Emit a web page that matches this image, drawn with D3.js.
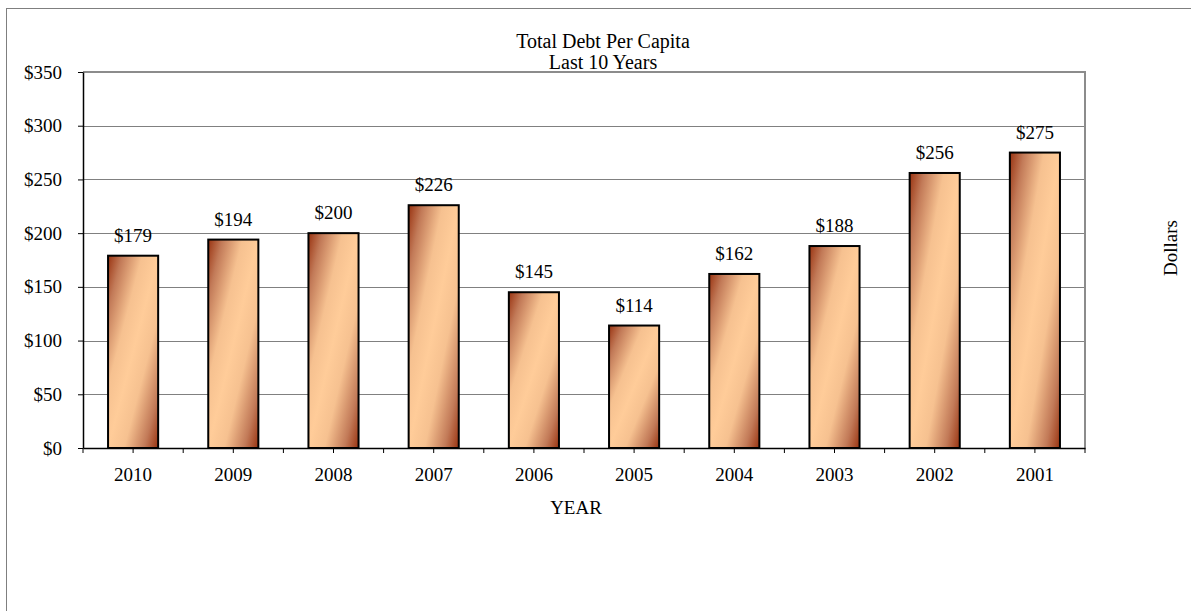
<!DOCTYPE html>
<html>
<head>
<meta charset="utf-8">
<script src="https://cdn.jsdelivr.net/npm/d3@7"></script>
<style>
    body { margin: 0; background: #fff; }
    text { font-family: "Liberation Serif", "Times New Roman", serif; fill: #000; }
</style>
</head>
<body>
<div id="chart"></div>
<script>
/* chart data */
var years = ["2010", "2009", "2008", "2007", "2006", "2005", "2004", "2003", "2002", "2001"];
var debtPerCapita = [179, 194, 200, 226, 145, 114, 162, 188, 256, 275];
var yTicks = [0, 50, 100, 150, 200, 250, 300, 350];
var titleLines = ["Total Debt Per Capita", "Last 10 Years"];

function plotBars() {
    var W = 1191,
        H = 611,
        margin = {
            top: 72,
            right: 106,
            bottom: 163,
            left: 83
        },
        width = W - margin.left - margin.right,
        height = H - margin.top - margin.bottom;

    var svg = d3.select("#chart").append("svg")
        .attr("width", W)
        .attr("height", H);

    // outer chart border (only top and left visible)
    svg.append("rect")
        .attr("x", 6.5)
        .attr("y", 8.5)
        .attr("width", W + 20)
        .attr("height", H + 20)
        .attr("fill", "none")
        .attr("stroke", "#7f7f7f")
        .attr("stroke-width", 1);

    var defs = svg.append("defs");
    var grad = defs.append("linearGradient")
        .attr("id", "barGrad")
        .attr("x1", 0).attr("y1", 0)
        .attr("x2", 1).attr("y2", 1);
    grad.append("stop").attr("offset", "0%").attr("stop-color", "#993311");
    grad.append("stop").attr("offset", "14%").attr("stop-color", "#c27a58");
    grad.append("stop").attr("offset", "34%").attr("stop-color", "#f6c190");
    grad.append("stop").attr("offset", "50%").attr("stop-color", "#ffcc99");
    grad.append("stop").attr("offset", "66%").attr("stop-color", "#f6c190");
    grad.append("stop").attr("offset", "86%").attr("stop-color", "#c27a58");
    grad.append("stop").attr("offset", "100%").attr("stop-color", "#993311");

    var g = svg.append("g")
        .attr("transform", "translate(" + margin.left + "," + margin.top + ")");

    var x = d3.scaleBand()
        .domain(years)
        .range([0, width])
        .paddingInner(0.5)
        .paddingOuter(0.25);

    var y = d3.scaleLinear()
        .domain([0, 350])
        .range([height, 0]);

    // gridlines
    g.selectAll(".grid")
        .data(yTicks.filter(function(d) { return d > 0; }))
        .enter().append("line")
        .attr("class", "grid")
        .attr("x1", 0)
        .attr("x2", width)
        .attr("y1", function(d) { return Math.round(y(d)) + 0.5; })
        .attr("y2", function(d) { return Math.round(y(d)) + 0.5; })
        .attr("stroke", "#808080")
        .attr("stroke-width", 1);

    // plot frame top / right
    g.append("path")
        .attr("d", "M0," + y(350) + "H" + width + "V" + height)
        .attr("fill", "none")
        .attr("stroke", "#8c8c8c")
        .attr("stroke-width", 2);

    // bars
    g.selectAll(".bar")
        .data(debtPerCapita)
        .enter().append("rect")
        .attr("class", "bar")
        .attr("x", function(d, i) { return x(years[i]); })
        .attr("y", function(d) { return y(d); })
        .attr("width", x.bandwidth())
        .attr("height", function(d) { return height - y(d); })
        .attr("fill", "url(#barGrad)")
        .attr("stroke", "#000")
        .attr("stroke-width", 2);

    // value labels
    g.selectAll(".val")
        .data(debtPerCapita)
        .enter().append("text")
        .attr("class", "val")
        .attr("x", function(d, i) { return x(years[i]) + x.bandwidth() / 2; })
        .attr("y", function(d) { return y(d) - 14; })
        .attr("text-anchor", "middle")
        .style("font-size", "19px")
        .text(function(d) { return "$" + d; });

    // y axis
    var yAxis = g.append("g")
        .call(d3.axisLeft(y).tickValues(yTicks).tickSize(5).tickSizeOuter(0)
            .tickFormat(function(d) { return "$" + d; }));
    yAxis.select(".domain").attr("stroke", "#000").attr("stroke-width", 1.5);
    yAxis.selectAll(".tick line").attr("stroke", "#000");
    yAxis.selectAll(".tick text")
        .attr("x", -21)
        .style("font-size", "19px")
        .style("font-family", "Liberation Serif");

    // x axis
    var xAxis = g.append("g")
        .attr("transform", "translate(0," + height + ")")
        .call(d3.axisBottom(x).tickSize(5).tickSizeOuter(0));
    xAxis.select(".domain").attr("stroke", "#000").attr("stroke-width", 1.5);
    xAxis.selectAll(".tick line").attr("stroke", "#000");
    xAxis.selectAll(".tick text")
        .attr("y", 20)
        .style("font-size", "19px")
        .style("font-family", "Liberation Serif");

    // boundary ticks between categories
    var bounds = d3.range(years.length + 1).map(function(i) { return i * x.step(); });
    xAxis.selectAll(".btick")
        .data(bounds)
        .enter().append("line")
        .attr("class", "btick")
        .attr("x1", function(d) { return d; })
        .attr("x2", function(d) { return d; })
        .attr("y1", 0)
        .attr("y2", 5)
        .attr("stroke", "#000");

    // title
    svg.append("text")
        .attr("x", 603)
        .attr("text-anchor", "middle")
        .style("font-size", "20px")
        .selectAll("tspan")
        .data(titleLines)
        .enter().append("tspan")
        .attr("x", 603)
        .attr("y", function(d, i) { return 48 + i * 21; })
        .text(function(d) { return d; });

    // axis titles
    svg.append("text")
        .attr("x", 576)
        .attr("y", 514)
        .attr("text-anchor", "middle")
        .style("font-size", "19px")
        .text("YEAR");

    svg.append("text")
        .attr("transform", "translate(1177,248) rotate(-90)")
        .attr("text-anchor", "middle")
        .style("font-size", "19px")
        .text("Dollars");
}

plotBars();
</script>
</body>
</html>
